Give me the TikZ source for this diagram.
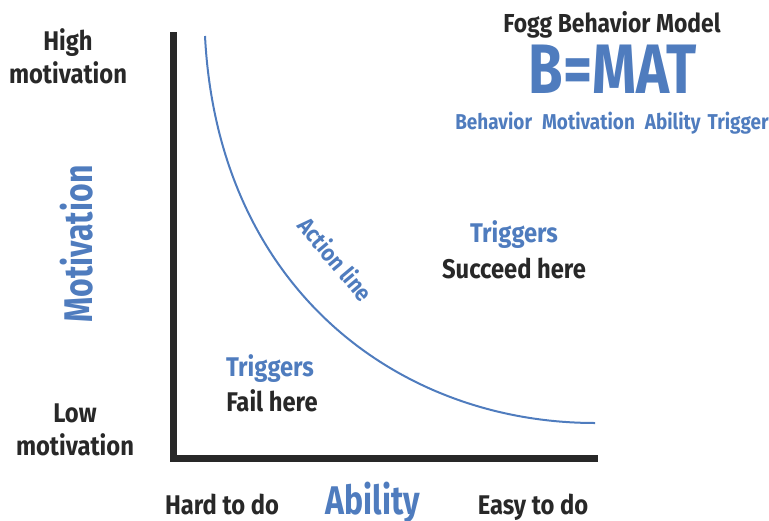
\documentclass[tikz,border=0pt]{standalone}
\usepackage{fontspec}
\setmainfont{Fira Sans}[FakeStretch=0.88]
\newfontfamily\headfont{Fira Sans}[FakeStretch=0.8]
\definecolor{ink}{RGB}{40,40,40}
\definecolor{fbm}{RGB}{79,124,190}

\begin{document}
\begin{tikzpicture}[x=1pt,y=-1pt,
    darklbl/.style={text=ink, font=\bfseries\fontsize{27}{33}\selectfont, align=center, inner sep=0pt},
    bluelbl/.style={text=fbm, font=\bfseries\fontsize{27}{33}\selectfont, align=center, inner sep=0pt},
    biglbl/.style={text=fbm, font=\headfont\bfseries\fontsize{40}{44}\selectfont, inner sep=0pt}]
    %%%%% START %%%%%
    \useasboundingbox (0,0) rectangle (769,520);

    % axes
    \coordinate (ytop) at (173.5,32);
    \coordinate (orig) at (173.5,458.5);
    \coordinate (xend) at (598,458.5);
    \draw[line width=7pt, color=ink] (ytop) -- (orig) -- (xend);

    % action line
    \coordinate (astart) at (205,36);
    \coordinate (aend) at (595,423);
    \draw[line width=2pt, color=fbm] (astart) .. controls (218,290) and (400,423) .. (aend);
    \node[bluelbl, font=\bfseries\fontsize{23.5}{26}\selectfont, rotate=-50] (act) at (336,259) {Action line};

    % vertical axis labels
    \node[darklbl] (hi) at (68,56) {High\\motivation};
    \node[darklbl] (lo) at (75,430) {Low\\motivation};
    \node[biglbl, rotate=90] (mot) at (77,244) {Motivation};

    % horizontal axis labels
    \node[darklbl, anchor=base] (hard) at (222,514) {Hard to do};
    \node[biglbl, anchor=base] (abil) at (373,514) {Ability};
    \node[darklbl, anchor=base] (easy) at (533,514) {Easy to do};

    % regions
    \node[bluelbl] (trg1) at (514,235) {Triggers};
    \node[darklbl] (succ) at (514,268) {Succeed here};
    \node[bluelbl] (trg2) at (270,369) {Triggers};
    \node[darklbl] (fail) at (272,401) {Fail here};

    % title block
    \node[darklbl, font=\bfseries\fontsize{26}{28}\selectfont] (ttl) at (612,25) {Fogg Behavior Model};
    \node[biglbl, font=\headfont\bfseries\fontsize{70}{74}\selectfont] (eqn) at (613,69) {B=MAT};
    \node[bluelbl, font=\bfseries\fontsize{21.5}{24}\selectfont] (terms) at (612,123) {Behavior\hspace{10pt}Motivation\hspace{10pt}Ability\hspace{7pt}Trigger};
    %%%%% END %%%%%
\end{tikzpicture}
\end{document}
